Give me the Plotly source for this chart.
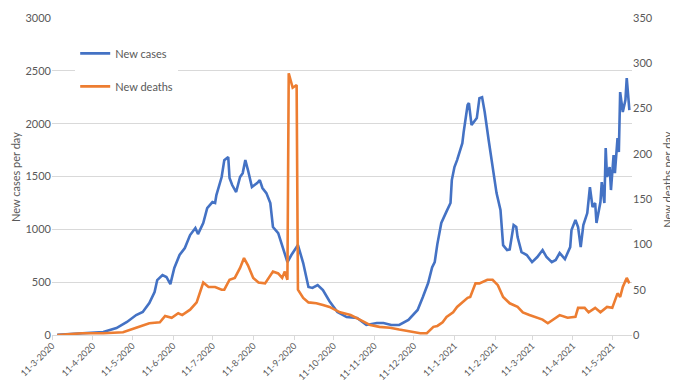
import plotly.graph_objects as go

case_dates = [
    "2020-03-15", "2020-04-03", "2020-04-19", "2020-04-29", "2020-05-07", "2020-05-14", "2020-05-19",
    "2020-05-24", "2020-05-28", "2020-05-30", "2020-06-03", "2020-06-06", "2020-06-09", "2020-06-12",
    "2020-06-16", "2020-06-20", "2020-06-24", "2020-06-28", "2020-06-30", "2020-07-04", "2020-07-07",
    "2020-07-11", "2020-07-13", "2020-07-14", "2020-07-18", "2020-07-20", "2020-07-23", "2020-07-24",
    "2020-07-26", "2020-07-29", "2020-08-01", "2020-08-03", "2020-08-05", "2020-08-07", "2020-08-10",
    "2020-08-14", "2020-08-16", "2020-08-18", "2020-08-21", "2020-08-24", "2020-08-26", "2020-08-30",
    "2020-09-03", "2020-09-06", "2020-09-09", "2020-09-14", "2020-09-18", "2020-09-22", "2020-09-25",
    "2020-09-29", "2020-10-03", "2020-10-08", "2020-10-14", "2020-10-21", "2020-10-29", "2020-11-05",
    "2020-11-13", "2020-11-18", "2020-11-24", "2020-11-30", "2020-12-07", "2020-12-14", "2020-12-18",
    "2020-12-22", "2020-12-25", "2020-12-27", "2020-12-29", "2021-01-01", "2021-01-05", "2021-01-08",
    "2021-01-09", "2021-01-11", "2021-01-13", "2021-01-17", "2021-01-18", "2021-01-21", "2021-01-22",
    "2021-01-24", "2021-01-28", "2021-01-30", "2021-02-01", "2021-02-03", "2021-02-06", "2021-02-09",
    "2021-02-12", "2021-02-15", "2021-02-17", "2021-02-20", "2021-02-22", "2021-02-25", "2021-02-27",
    "2021-02-28", "2021-03-03", "2021-03-07", "2021-03-11", "2021-03-15", "2021-03-19", "2021-03-22",
    "2021-03-26", "2021-03-29", "2021-04-01", "2021-04-05", "2021-04-09", "2021-04-10", "2021-04-13",
    "2021-04-15", "2021-04-17", "2021-04-19", "2021-04-22", "2021-04-24", "2021-04-26", "2021-04-28",
    "2021-04-29", "2021-05-02", "2021-05-03", "2021-05-05", "2021-05-06", "2021-05-07", "2021-05-09",
    "2021-05-10", "2021-05-12", "2021-05-13", "2021-05-15", "2021-05-16", "2021-05-17", "2021-05-19",
    "2021-05-21", "2021-05-22", "2021-05-24",
]
new_cases = [
    3, 19, 28, 66, 123, 189, 218,
    303, 407, 520, 568, 549, 482, 634,
    757, 823, 946, 1012, 955, 1060, 1200,
    1258, 1249, 1324, 1495, 1655, 1684, 1485,
    1419, 1353, 1495, 1532, 1655, 1561, 1400,
    1438, 1466, 1391, 1343, 1249, 1022, 965,
    804, 690, 757, 851, 681, 454, 445,
    473, 426, 320, 218, 170, 161, 95,
    114, 114, 95, 95, 142, 237, 360,
    492, 640, 690, 860, 1060, 1170, 1249,
    1466, 1589, 1655, 1816, 1920, 2176, 2195,
    1987, 2053, 2242, 2251, 2110, 1845, 1589,
    1343, 1183, 850, 804, 810, 1041, 1022,
    927, 785, 757, 690, 738, 804, 738,
    690, 710, 776, 719, 832, 993, 1088,
    1022, 832, 1041, 1154, 1400, 1211, 1249,
    1060, 1258, 1447, 1249, 1769, 1495, 1589,
    1372, 1703, 1532, 1864, 1731, 2299, 2110,
    2223, 2431, 2129,
]

death_dates = [
    "2020-03-15", "2020-04-03", "2020-04-19", "2020-05-04", "2020-05-14", "2020-05-24", "2020-06-01",
    "2020-06-05", "2020-06-10", "2020-06-15", "2020-06-18", "2020-06-24", "2020-06-29", "2020-07-04",
    "2020-07-08", "2020-07-13", "2020-07-18", "2020-07-20", "2020-07-24", "2020-07-28", "2020-08-01",
    "2020-08-04", "2020-08-07", "2020-08-11", "2020-08-15", "2020-08-20", "2020-08-26", "2020-08-30",
    "2020-09-02", "2020-09-04", "2020-09-06", "2020-09-07", "2020-09-10", "2020-09-13", "2020-09-14",
    "2020-09-18", "2020-09-22", "2020-09-28", "2020-10-03", "2020-10-08", "2020-10-16", "2020-10-24",
    "2020-10-31", "2020-11-08", "2020-11-15", "2020-11-23", "2020-11-30", "2020-12-08", "2020-12-16",
    "2020-12-21", "2020-12-26", "2020-12-29", "2021-01-02", "2021-01-05", "2021-01-10", "2021-01-13",
    "2021-01-17", "2021-01-21", "2021-01-23", "2021-01-27", "2021-01-30", "2021-02-05", "2021-02-09",
    "2021-02-13", "2021-02-17", "2021-02-22", "2021-02-28", "2021-03-04", "2021-03-09", "2021-03-15",
    "2021-03-19", "2021-03-23", "2021-03-27", "2021-04-01", "2021-04-07", "2021-04-13", "2021-04-15",
    "2021-04-20", "2021-04-23", "2021-04-28", "2021-05-02", "2021-05-07", "2021-05-11", "2021-05-15",
    "2021-05-17", "2021-05-19", "2021-05-22", "2021-05-24",
]
new_deaths = [
    0, 2, 2, 3, 8, 13, 14,
    21, 19, 24, 22, 28, 36, 58,
    53, 53, 50, 50, 61, 63, 74,
    85, 77, 63, 58, 57, 70, 68,
    63, 70, 61, 289, 273, 276, 50,
    41, 36, 35, 33, 31, 25, 22,
    17, 11, 9, 8, 6, 4, 2,
    2, 9, 10, 14, 20, 25, 31,
    36, 41, 42, 57, 57, 61, 61,
    55, 42, 35, 31, 25, 22, 19,
    17, 13, 17, 22, 19, 20, 30,
    30, 25, 30, 25, 31, 30, 46,
    42, 53, 63, 57,
]

left_title = "New cases per day"
right_title = "New deaths per day"

FONT = "Lato"
GRAY = "#595959"

fig = go.Figure()
fig.add_trace(go.Scatter(
    x=case_dates, y=new_cases, name="New cases", mode="lines",
    line=dict(color="#4472C4", width=2.6), legendgroup="a",
))
fig.add_trace(go.Scatter(
    x=death_dates, y=new_deaths, name="New deaths", mode="lines",
    line=dict(color="#ED7D31", width=2.6), yaxis="y2", legendgroup="b",
))

# the page body has an 8px margin, so the figure is 8px smaller than the window
fig.update_layout(
    width=670, height=373,
    margin=dict(l=44, r=46, t=10, b=46, autoexpand=False),
    paper_bgcolor="white", plot_bgcolor="white",
    font=dict(family=FONT, size=11, color=GRAY),
    showlegend=True,
    legend=dict(
        x=0.04, y=0.934, xanchor="left", yanchor="top",
        bgcolor="white", tracegroupgap=14,
        font=dict(family=FONT, size=11, color=GRAY),
    ),
    xaxis=dict(
        type="date", automargin=False,
        range=["2020-03-11", "2021-05-26"],
        tick0="2020-03-11", dtick="M1",
        tickformat="%-d-%-m-%Y",
        tickangle=-45,
        showgrid=False,
        showline=True, linecolor="#d9d9d9", linewidth=1,
        ticks="outside", ticklen=4, tickcolor="#d9d9d9",
        ticklabelstandoff=-3,
        tickfont=dict(family=FONT, size=9, color=GRAY),
    ),
    yaxis=dict(
        range=[0, 3000], dtick=500, automargin=False,
        showgrid=True, gridcolor="#d9d9d9", gridwidth=1,
        zeroline=False,
        tickfont=dict(family=FONT, size=11, color=GRAY),
    ),
    yaxis2=dict(
        range=[0, 350], dtick=50, automargin=False,
        overlaying="y", side="right",
        showgrid=False, zeroline=False,
        tickfont=dict(family=FONT, size=11, color=GRAY),
    ),
    annotations=[
        dict(text=left_title, xref="paper", yref="paper", x=-0.063, y=0.5,
             textangle=-90, showarrow=False, xanchor="center", yanchor="middle",
             font=dict(family=FONT, size=11, color=GRAY)),
        dict(text=right_title, xref="paper", yref="paper", x=1.062, y=0.49,
             textangle=-90, showarrow=False, xanchor="center", yanchor="middle",
             font=dict(family=FONT, size=11, color=GRAY)),
    ],
)

fig.write_html("out.html")
